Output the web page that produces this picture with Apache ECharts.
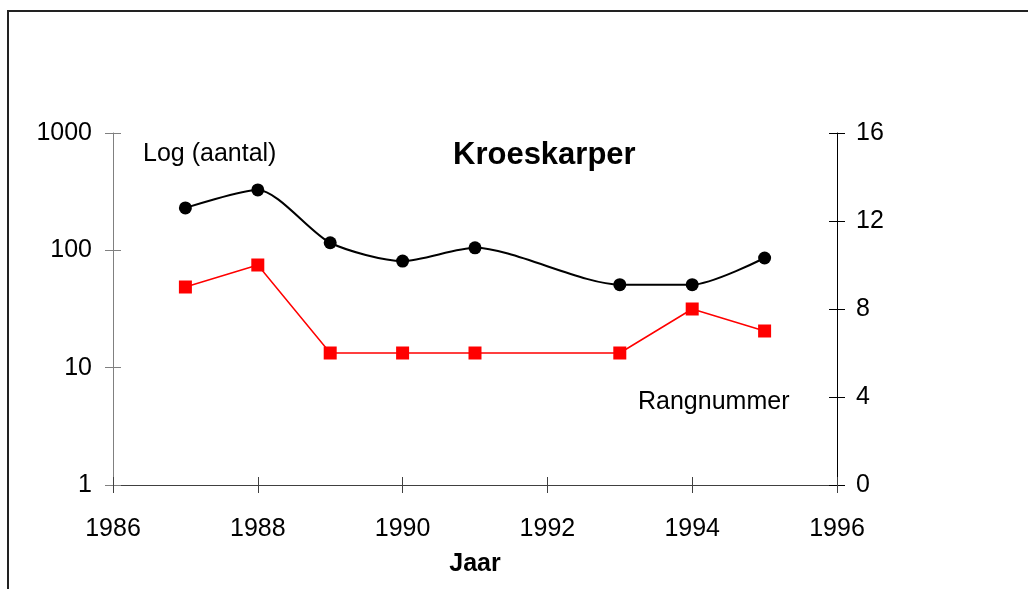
<!DOCTYPE html>
<html>
<head>
<meta charset="utf-8">
<script src="https://cdn.jsdelivr.net/npm/echarts@6/dist/echarts.min.js"></script>
<style>
html,body{margin:0;padding:0;background:#fff;}
#chart{width:1028px;height:589px;}
</style>
</head>
<body>
<div id="chart"></div>
<script>
const years = [1987, 1988, 1989, 1990, 1991, 1993, 1994, 1995];
const aantal = [230, 327, 116, 81, 105, 51, 51, 86];
const rangnummer = [9, 10, 6, 6, 6, 6, 8, 7];
const leftTicks = [1, 10, 100, 1000];
const rightTicks = [0, 4, 8, 12, 16];
const xTicks = [1986, 1988, 1990, 1992, 1994, 1996];

const FONT = '"Liberation Sans", Arial, sans-serif';
const chart = echarts.init(document.getElementById('chart'), null, {renderer: 'canvas'});
const plain = v => String(v);

const option = {
  backgroundColor: '#ffffff',
  animation: false,
  textStyle: {fontFamily: FONT},
  grid: {left: 113, right: 191, top: 133, bottom: 104, containLabel: false},
  xAxis: [
    {
      type: 'value', min: xTicks[0], max: xTicks[xTicks.length - 1], interval: 2,
      position: 'bottom',
      splitLine: {show: false},
      axisLine: {show: true, onZero: false, lineStyle: {color: '#404040', width: 1}},
      axisTick: {show: true, inside: false, length: 8, lineStyle: {color: '#404040'}},
      axisLabel: {color: '#000', fontSize: 25, fontFamily: FONT, margin: 32, formatter: plain},
      name: 'Jaar', nameLocation: 'middle', nameGap: 67,
      nameTextStyle: {color: '#000', fontSize: 25, fontWeight: 'bold', fontFamily: FONT}
    },
    {
      type: 'value', min: xTicks[0], max: xTicks[xTicks.length - 1], interval: 2,
      position: 'bottom', offset: 0,
      splitLine: {show: false},
      axisLine: {show: false, onZero: false},
      axisTick: {show: true, inside: true, length: 8, lineStyle: {color: '#404040'}},
      axisLabel: {show: false}
    }
  ],
  yAxis: [
    {
      type: 'log', logBase: 10, min: 1, max: 1000, position: 'left',
      splitLine: {show: false},
      minorTick: {show: false},
      axisLine: {show: true, onZero: false, lineStyle: {color: '#808080', width: 1}},
      axisTick: {show: true, inside: false, length: 8, lineStyle: {color: '#808080'}},
      axisLabel: {color: '#000', fontSize: 25, fontFamily: FONT, margin: 21, formatter: plain}
    },
    {
      type: 'value', min: 0, max: 16, interval: 4, position: 'right',
      splitLine: {show: false},
      axisLine: {show: true, onZero: false, lineStyle: {color: '#000', width: 1}},
      axisTick: {show: true, inside: false, length: 8, lineStyle: {color: '#000'}},
      axisLabel: {color: '#000', fontSize: 25, fontFamily: FONT, margin: 19, formatter: plain}
    },
    {
      type: 'log', logBase: 10, min: 1, max: 1000, position: 'left', offset: 0,
      splitLine: {show: false},
      axisLine: {show: false, onZero: false},
      axisTick: {show: true, inside: true, length: 8, lineStyle: {color: '#808080'}},
      axisLabel: {show: false}
    },
    {
      type: 'value', min: 0, max: 16, interval: 4, position: 'right', offset: 0,
      splitLine: {show: false},
      axisLine: {show: false, onZero: false},
      axisTick: {show: true, inside: true, length: 8, lineStyle: {color: '#000'}},
      axisLabel: {show: false}
    }
  ],
  series: [
    {
      name: 'Log (aantal)', type: 'line', xAxisIndex: 0, yAxisIndex: 0,
      data: years.map((y, i) => [y, aantal[i]]),
      smooth: 0.25,
      symbol: 'circle', symbolSize: 13,
      itemStyle: {color: '#000'},
      lineStyle: {color: '#000', width: 2}
    },
    {
      name: 'Rangnummer', type: 'line', xAxisIndex: 0, yAxisIndex: 1,
      data: years.map((y, i) => [y, rangnummer[i]]),
      symbol: 'rect', symbolSize: 13,
      itemStyle: {color: '#ff0000'},
      lineStyle: {color: '#ff0000', width: 1.5}
    }
  ],
  graphic: [
    {type: 'rect', shape: {x: 8, y: 11, width: 1100, height: 700}, style: {fill: 'none', stroke: '#222', lineWidth: 2}, silent: true, z: -1},
    {type: 'text', left: 453, top: 140, style: {text: 'Kroeskarper', font: 'bold 31px ' + FONT, fill: '#000'}},
    {type: 'text', left: 143, top: 142, style: {text: 'Log (aantal)', font: '25px ' + FONT, fill: '#000'}},
    {type: 'text', left: 638, top: 390, style: {text: 'Rangnummer', font: '25px ' + FONT, fill: '#000'}}
  ]
};
chart.setOption(option);
</script>
</body>
</html>
